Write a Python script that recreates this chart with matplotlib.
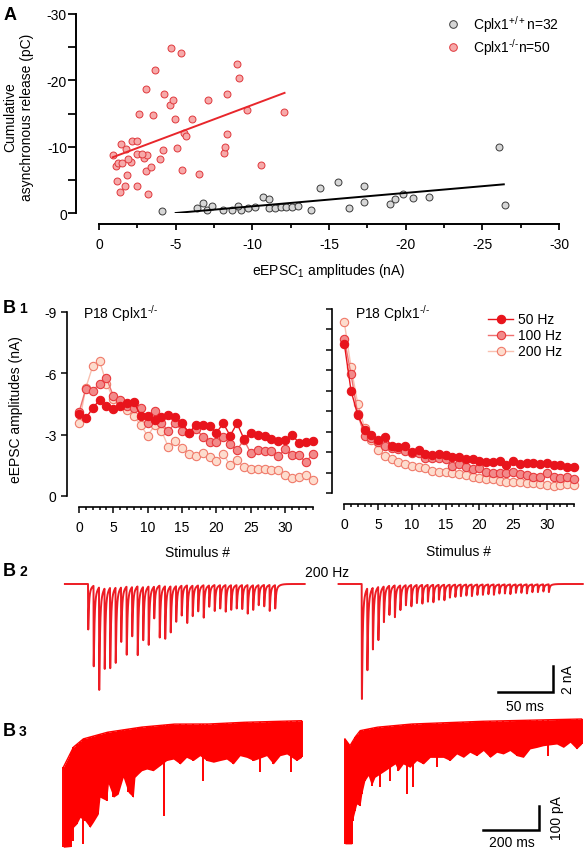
import numpy as np
import matplotlib
matplotlib.use('Agg')
import matplotlib.pyplot as plt
from matplotlib.lines import Line2D

plt.rcParams['font.family'] = ['Liberation Sans', 'DejaVu Sans']
plt.rcParams['font.size'] = 10
plt.rcParams['axes.unicode_minus'] = False
plt.rcParams['mathtext.fontset'] = 'custom'
plt.rcParams['mathtext.rm'] = 'Liberation Sans'
plt.rcParams['mathtext.it'] = 'Liberation Sans:italic'

W, H = 585, 853

# ---- A: eEPSC1 vs cumulative asynchronous release ----
ko_amp = [-0.89, -1.11, -1.2, -1.26, -1.37, -1.43, -1.5, -1.72, -1.76, -1.8,
          -2.09, -2.13, -2.46, -2.5, -2.5, -2.63, -2.93, -3.04, -3.07, -3.15,
          -3.17, -3.54, -3.67, -3.98, -4.2, -4.24, -4.65, -4.72, -4.85, -4.96,
          -5.07, -5.33, -5.39, -5.54, -5.7, -6.04, -6.5, -7.09, -8.17, -8.2,
          -8.37, -8.37, -9.0, -9.15, -9.63, -10.57, -12.09, -1.9, -2.8, -3.4]
ko_async = [-8.7, -7.1, -4.8, -7.6, -3.2, -10.4, -7.5, -4.1, -9.7, -5.7,
            -7.7, -10.9, -10.9, -4.0, -8.9, -15.0, -8.3, -18.7, -6.4, -8.8,
            -2.8, -14.8, -21.5, -8.1, -9.5, -17.9, -16.3, -24.9, -17.0, -14.1,
            -9.8, -24.1, -6.5, -12.0, -11.6, -14.1, -5.9, -17.1, -9.0, -9.9,
            -11.9, -17.9, -22.5, -20.3, -15.6, -7.2, -15.3, -8.2, -8.9, -6.9]
wt_amp = [-4.09, -6.37, -6.76, -7.07, -7.35, -8.07, -8.65, -9.24, -9.04, -9.7,
          -10.72, -11.1, -11.1, -11.48, -11.87, -12.2, -12.6, -13.0, -13.8, -14.4,
          -15.6, -16.3, -17.3, -17.3, -19.0, -19.3, -19.85, -20.5, -21.5, -26.1,
          -26.5, -10.2]
wt_async = [-0.3, -0.7, -1.56, -0.4, -1.05, -0.4, -0.4, -0.4, -1.05, -0.75,
            -2.4, -2.06, -0.7, -0.7, -0.95, -0.85, -0.9, -1.0, -0.5, -3.7,
            -4.6, -0.8, -4.0, -1.7, -1.4, -2.1, -2.8, -2.3, -2.4, -10.0,
            -1.2, -0.9]
ko_fit = (-7.63, 0.866)      # intercept, slope
ko_fit_x = (-0.9, -12.1)
wt_fit = (1.01, 0.202)
wt_fit_x = (-5.0, -26.4)

# ---- B1: eEPSC amplitudes during trains ----
stim = np.arange(35)
left_50 = [-4.0, -3.8, -4.3, -4.7, -4.4, -4.25, -4.4, -4.55, -4.6, -3.9, -3.9, -3.7,
           -3.85, -3.95, -3.85, -3.55, -3.1, -3.45, -3.45, -3.4, -3.1, -3.55, -2.95,
           -3.55, -2.8, -3.1, -3.0, -2.95, -2.8, -2.7, -2.75, -3.0, -2.6, -2.65, -2.7]
left_100 = [-4.1, -5.25, -5.15, -5.5, -5.75, -4.9, -4.7, -4.4, -4.3, -4.3, -3.55, -4.15,
            -3.55, -3.2, -3.55, -3.2, -3.1, -3.3, -2.9, -2.65, -2.65, -2.9, -2.55,
            -2.25, -2.75, -2.1, -2.25, -2.2, -2.2, -1.95, -2.3, -2.0, -2.0, -1.65, -2.05]
left_200 = [-3.55, -5.3, -6.35, -6.6, -5.5, -4.75, -4.65, -4.2, -3.9, -3.45, -2.95, -3.45,
            -3.2, -2.4, -2.7, -2.35, -2.05, -1.95, -2.1, -1.9, -1.7, -2.05, -1.5,
            -1.75, -1.4, -1.3, -1.3, -1.3, -1.25, -1.25, -1.05, -0.9, -0.95, -1.05, -0.8]
right_50 = [-7.3, -5.0, -3.8, -3.1, -2.85, -2.6, -2.75, -2.3, -2.25, -2.3, -2.0, -2.1,
            -1.9, -1.85, -1.9, -1.85, -1.75, -1.75, -1.65, -1.65, -1.55, -1.5, -1.5,
            -1.55, -1.35, -1.55, -1.4, -1.45, -1.45, -1.4, -1.45, -1.35, -1.35, -1.25, -1.25]
right_100 = [-7.55, -5.8, -3.85, -2.8, -2.7, -2.5, -2.3, -2.2, -2.15, -2.05, -1.95, -1.95,
             -1.7, -1.7, -1.7, -1.65, -1.3, -1.4, -1.25, -1.15, -1.2, -1.05, -1.0,
             -1.0, -1.0, -1.05, -0.95, -0.9, -0.8, -0.8, -1.0, -0.8, -0.75, -0.8, -0.7]
right_200 = [-8.35, -6.15, -4.35, -3.2, -2.6, -2.1, -1.8, -1.65, -1.5, -1.4, -1.3, -1.25,
             -1.2, -1.1, -1.05, -1.05, -1.0, -0.95, -0.9, -0.8, -0.75, -0.7, -0.7,
             -0.6, -0.55, -0.55, -0.55, -0.5, -0.5, -0.45, -0.4, -0.35, -0.4, -0.45, -0.4]
freq_labels = ['50 Hz', '100 Hz', '200 Hz']

# ---- B2: 200 Hz train, peak eEPSC amplitudes (nA) ----
isi_ms = 5.0
b2_left_peaks = [3.5, 6.2, 7.9, 6.2, 6.2, 5.8, 4.2, 5.25, 3.8, 5.3, 4.1, 4.5, 2.45, 4.0,
                 4.05, 3.55, 2.75, 2.3, 2.9, 2.35, 2.0, 2.5, 1.65, 2.0, 1.8, 2.05, 1.9,
                 1.8, 1.85, 2.2, 1.9, 1.55, 1.65, 2.0, 1.8]
b2_right_peaks = [8.85, 6.3, 4.75, 4.1, 2.75, 2.25, 2.45, 1.9, 1.55, 1.65, 1.4, 1.45, 1.3,
                  1.35, 1.15, 1.2, 1.0, 0.95, 0.9, 0.85, 0.9, 0.8, 0.8, 0.75, 0.8, 0.7,
                  0.7, 0.75, 0.65, 0.65, 0.7, 0.6, 0.6, 0.55, 0.6]

# ---- B3: long train, current envelope (ms from onset, pA) ----
b3l_top_t = [0, 36, 71, 155, 274, 393, 512, 631, 851]
b3l_top_i = [-199, -116, -82, -55, -34, -21, -21, -14, -7]
b3l_low_t = [0, 26, 30, 36, 48, 60, 71, 77, 95, 107, 125, 131, 155, 161, 179, 196, 214,
             232, 250, 256, 268, 280, 298, 321, 345, 360, 369, 393, 417, 440, 464, 488,
             500, 512, 536, 560, 583, 607, 631, 655, 679, 702, 726, 750, 774, 798, 815,
             833, 851]
b3l_low_i = [-528, -525, -453, -501, -432, -405, -514, -418, -446, -425, -391, -322, -336,
             -267, -322, -309, -240, -302, -322, -240, -226, -213, -206, -213, -192, -398,
             -171, -165, -185, -158, -171, -151, -254, -171, -178, -171, -165, -185, -151,
             -158, -171, -219, -151, -185, -151, -144, -219, -171, -158]
b3r_top_t = [0, 18, 36, 54, 113, 232, 470, 845]
b3r_top_i = [-82, -110, -75, -48, -34, -21, -10, 0]
b3r_low_t = [0, 24, 27, 36, 42, 54, 60, 71, 83, 95, 107, 125, 143, 161, 179, 190, 208, 223,
             232, 244, 256, 280, 304, 327, 351, 375, 399, 423, 446, 470, 494, 518, 542,
             565, 589, 613, 637, 661, 685, 708, 726, 756, 780, 804, 827, 845]
b3r_low_i = [-514, -514, -418, -377, -350, -357, -309, -254, -233, -274, -240, -281, -213,
             -254, -185, -213, -185, -309, -199, -281, -171, -185, -158, -199, -158, -171,
             -144, -158, -137, -151, -130, -158, -137, -144, -130, -151, -158, -123, -117,
             -110, -151, -103, -117, -96, -123, -103]

fig = plt.figure(figsize=(W / 100, H / 100), dpi=100, facecolor='white')


def add_ax(x0, y0, x1, y1):
    return fig.add_axes([x0 / W, 1 - y1 / H, (x1 - x0) / W, (y1 - y0) / H])


def ftext(x, y, s, **kw):
    return fig.text(x / W, 1 - y / H, s, **kw)


def open_axes(ax, left_off, bottom_off, lw=1.2):
    ax.patch.set_visible(False)
    for side in ['top', 'right']:
        ax.spines[side].set_visible(False)
    ax.spines['left'].set_position(('outward', left_off * 0.72))
    ax.spines['bottom'].set_position(('outward', bottom_off * 0.72))
    for side in ['left', 'bottom']:
        ax.spines[side].set_linewidth(lw)
    ax.tick_params(which='both', direction='out', width=lw * 0.9, colors='black')


KO = r'$^{\mathregular{' + '\u2010/\u2010' + '}}$'

# ---------------- panel A ----------------
ax_a = add_ax(99, 15, 559, 214)
open_axes(ax_a, 23, 11, lw=1.4)
ax_a.set_xlim(0, -30)
ax_a.set_ylim(0, -30)
ax_a.set_xticks(np.arange(0, -31, -5))
ax_a.set_xticks(np.arange(-2.5, -30, -5), minor=True)
ax_a.set_yticks([0, -10, -20, -30])
ax_a.set_yticks([-5, -15, -25], minor=True)
ax_a.tick_params(axis='x', which='major', length=4.5, pad=5, labelsize=10)
ax_a.tick_params(axis='x', which='minor', length=3)
ax_a.tick_params(axis='y', which='major', length=5.5, pad=1, labelsize=10)
ax_a.tick_params(axis='y', which='minor', length=5.5)

ax_a.plot(wt_amp, wt_async, 'o', ms=5, mfc='#d6d6d6', mec='#3a3a3a', mew=0.7, ls='none',
          clip_on=False)
ax_a.plot(ko_amp, ko_async, 'o', ms=5, mfc='#f6a9a9', mec='#e0383c', mew=0.7, ls='none',
          clip_on=False)
xs = np.array(wt_fit_x)
ax_a.plot(xs, wt_fit[0] + wt_fit[1] * xs, color='black', lw=1.4)
xs = np.array(ko_fit_x)
ax_a.plot(xs, ko_fit[0] + ko_fit[1] * xs, color='#e8262b', lw=1.4)

ftext(19, 117, 'Cumulative\nasynchronous release (pC)', rotation=90, ha='center',
      va='center', multialignment='center', linespacing=1.25, fontsize=10)
ftext(329, 271, r'eEPSC$_{\mathregular{1}}$ amplitudes (nA)', ha='center', va='center',
      fontsize=10)
ftext(4, 20, 'A', fontsize=13, fontweight='bold', va='baseline')

# legend A
for yy, fc, ec, lab in [(25, '#d6d6d6', '#3a3a3a', r'Cplx1$^{\mathregular{+/+}}$n=32'),
                        (47.7, '#f6a9a9', '#e0383c', 'Cplx1' + KO + 'n=50')]:
    fig.add_artist(Line2D([452.7 / W], [1 - yy / H], marker='o', ms=5.5, mfc=fc, mec=ec,
                          mew=0.7, ls='none', transform=fig.transFigure))
    ftext(473, yy, lab, va='center', fontsize=10)

# ---------------- panel B1 ----------------
styles = [dict(color='#e8141c', mfc='#e8141c', mec='#e8141c'),
          dict(color='#f07070', mfc='#f28a8a', mec='#e8383c'),
          dict(color='#f9c0b0', mfc='#fddccd', mec='#f07a6a')]

ax_l = add_ax(79, 313, 312.6, 497)
ax_r = add_ax(344.3, 310, 573.8, 494)
for ax, series in [(ax_l, [left_50, left_100, left_200]),
                   (ax_r, [right_50, right_100, right_200])]:
    open_axes(ax, 12, 11)
    ax.set_xlim(0, 34)
    ax.set_ylim(0, -9)
    for vals, st in reversed(list(zip(series, styles))):
        ax.plot(stim, vals, marker='o', ms=6, mew=0.8, lw=1.0, clip_on=False, **st)
    ax.set_xticks(np.arange(0, 31, 5))
    ax.set_xticks(np.arange(0, 35, 1), minor=True)
    ax.tick_params(axis='x', which='major', length=4.5, pad=5, labelsize=10)
    ax.tick_params(axis='x', which='minor', length=2.5)

ax_l.set_yticks([0, -3, -6, -9])
ax_l.tick_params(axis='y', which='major', length=4.5, pad=3, labelsize=10)
ax_r.set_yticks([0, -3, -6, -9])
ax_r.set_yticks(np.arange(0, -10, -1), minor=True)
ax_r.set_yticklabels([])
ax_r.tick_params(axis='y', which='major', length=4.5)
ax_r.tick_params(axis='y', which='minor', length=4)

ftext(16, 410, 'eEPSC amplitudes (nA)', rotation=90, ha='center', va='center', fontsize=10)
ftext(197, 553, 'Stimulus #', ha='center', va='center', fontsize=10)
ftext(459, 552, 'Stimulus #', ha='center', va='center', fontsize=10)
ftext(83, 314, 'P18 Cplx1' + KO, va='center', fontsize=10)
ftext(355, 314, 'P18 Cplx1' + KO, va='center', fontsize=10)

for yy, st, lab in zip([320, 336, 352], styles, freq_labels):
    fig.add_artist(Line2D([488 / W, 513 / W], [1 - yy / H] * 2, color=st['color'], lw=1.0,
                          transform=fig.transFigure))
    fig.add_artist(Line2D([500.5 / W], [1 - yy / H], marker='o', ms=6, mew=0.8,
                          ls='none', mfc=st['mfc'], mec=st['mec'],
                          transform=fig.transFigure))
    ftext(518, yy, lab, va='center', fontsize=10)

ftext(3, 312.7, 'B', fontsize=13, fontweight='bold', va='baseline')
ftext(19, 312.7, '1', fontsize=10, fontweight='bold', va='baseline')

# ---------------- panel B2 ----------------
ax_b2 = add_ax(0, 560, 585, 710)
ax_b2.axis('off')
ax_b2.set_xlim(0, 585 / 1.1)
ax_b2.set_ylim(-125 / 13, 25 / 13)


def kernel(s):
    g = np.zeros_like(s)
    m = s > 0
    g[m] = (1 - np.exp(-s[m] / 0.1)) * (0.8 * np.exp(-s[m] / 0.6) + 0.2 * np.exp(-s[m] / 2.5))
    return g


kmax = kernel(np.arange(0, 5, 0.005)).max()


def epsc_train(peaks, pre, post, dt=0.02):
    t = np.arange(-pre, isi_ms * (len(peaks) - 1) + post, dt)
    y = np.zeros_like(t)
    for k, a in enumerate(peaks):
        y -= a * kernel(t - k * isi_ms) / kmax
    return t, y


t, y = epsc_train(b2_left_peaks, pre=21, post=27)
ax_b2.plot(t + 80, y, color='#ed1c24', lw=1.4)
t, y = epsc_train(b2_right_peaks, pre=21, post=31)
ax_b2.plot(t + 328.8, y, color='#ed1c24', lw=1.4)

# scale bar 50 ms / 2 nA
ax_b2.plot([452.7, 502.7, 502.7], [-8.31, -8.31, -6.31], color='black', lw=1.8,
           solid_joinstyle='miter')
ftext(525, 707, '50 ms', ha='center', va='center', fontsize=10)
ftext(568, 680, '2 nA', rotation=90, ha='center', va='center', fontsize=10)
ftext(327, 573, '200 Hz', ha='center', va='center', fontsize=10)
ftext(3, 576, 'B', fontsize=13, fontweight='bold', va='baseline')
ftext(19, 576, '2', fontsize=10, fontweight='bold', va='baseline')

# ---------------- panel B3 ----------------
ax_b3 = add_ax(0, 715, 585, 853)
ax_b3.axis('off')
ax_b3.set_xlim(0, 585 / 0.28)
ax_b3.set_ylim(-133 / 0.243, 5 / 0.243)


def async_trace(ax, t0, top_t, top_i, low_t, low_i, color='#ff0000'):
    low_t = np.asarray(low_t, float)
    low_i = np.asarray(low_i, float)
    # isolated deep events: deeper than both neighbours by > 40 pA, drawn as thin lines
    padded = np.concatenate([[low_i[0]], low_i, [low_i[-1]]])
    spike = low_i < np.minimum(padded[:-2], padded[2:]) - 40
    t = np.linspace(0, top_t[-1], 3000)
    top = np.interp(t, top_t, top_i)
    body = np.interp(t, low_t[~spike], low_i[~spike])
    ax.fill_between(t0 + t, body, top, color=color, lw=0)
    ax.plot(t0 + t, top, color=color, lw=1.0)
    ax.vlines(t0 + low_t, np.interp(low_t, top_t, top_i), low_i, color=color, lw=1.4)


async_trace(ax_b3, 226, b3l_top_t, b3l_top_i, b3l_low_t, b3l_low_i)
async_trace(ax_b3, 1232, b3r_top_t, b3r_top_i, b3r_low_t, b3r_low_i)

ax_b3.plot([1726, 1926, 1926], [-456.8, -456.8, -356.8], color='black', lw=1.8,
           solid_joinstyle='miter')
ftext(511.7, 843, '200 ms', ha='center', va='center', fontsize=10)
ftext(556.7, 818, '100 pA', rotation=90, ha='center', va='center', fontsize=10)
ftext(3, 736, 'B', fontsize=13, fontweight='bold', va='baseline')
ftext(19, 736, '3', fontsize=10, fontweight='bold', va='baseline')

fig.savefig('out.png', dpi=100, facecolor='white')
